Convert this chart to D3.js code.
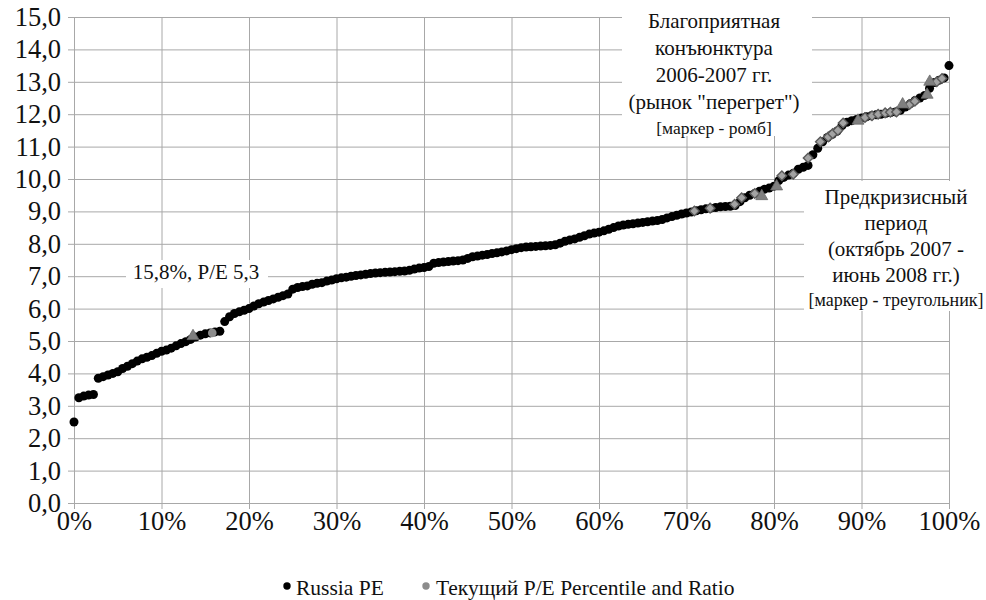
<!DOCTYPE html>
<html><head><meta charset="utf-8">
<script src="https://cdn.jsdelivr.net/npm/d3@7"></script>
<style>
html,body{margin:0;padding:0;background:#fff;}
svg{display:block;}
svg text{font-family:"Liberation Serif","Times New Roman",Times,"DejaVu Serif",serif;}
</style></head>
<body>
<svg id="chart" width="986" height="600"></svg>
<script>
// Russia PE, sorted (percentile rank = index / (n-1))
const russiaPE = [
2.50,3.25,3.30,3.33,3.35,3.85,3.90,3.95,4.00,4.05,
4.15,4.22,4.30,4.38,4.45,4.50,4.55,4.62,4.68,4.72,
4.78,4.85,4.92,4.98,5.05,5.12,5.18,5.22,5.25,5.28,
5.30,5.60,5.75,5.85,5.90,5.95,6.00,6.08,6.15,6.20,
6.25,6.30,6.35,6.40,6.45,6.60,6.65,6.68,6.70,6.75,
6.78,6.80,6.85,6.88,6.92,6.95,6.97,7.00,7.02,7.04,
7.06,7.08,7.10,7.11,7.12,7.13,7.14,7.15,7.16,7.18,
7.22,7.25,7.27,7.30,7.40,7.42,7.44,7.45,7.47,7.48,
7.50,7.55,7.60,7.62,7.65,7.67,7.70,7.72,7.75,7.78,
7.82,7.85,7.88,7.90,7.91,7.92,7.93,7.94,7.95,7.97,
8.02,8.08,8.12,8.15,8.20,8.25,8.30,8.33,8.36,8.40,
8.45,8.50,8.55,8.58,8.60,8.62,8.64,8.66,8.68,8.70,
8.72,8.75,8.80,8.84,8.88,8.92,8.95,8.98,9.02,9.05,
9.08,9.10,9.12,9.14,9.15,9.16,9.18,9.30,9.42,9.50,
9.55,9.62,9.68,9.72,9.78,9.95,10.05,10.12,10.18,10.30,
10.36,10.42,10.75,10.95,11.15,11.28,11.38,11.48,11.65,11.75,
11.80,11.84,11.88,11.92,11.95,11.98,12.00,12.03,12.05,12.07,
12.12,12.22,12.32,12.42,12.50,12.58,12.80,12.98,13.05,13.12,
13.50
];

// "Текущий P/E Percentile and Ratio" series
const currentPct = [15.8];
const currentPE  = [5.25];
// 2006-2007 (diamond markers)
const diamondPct = [70.9,72.7,75.5,76.3,77.8,80.9,82.2,83.9,85.3,86.2,86.7,87.3,87.9,90.4,91.2,91.9,92.7,93.3,94.0,95.5,96.1,98.6,99.2];
const diamondPE  = [9.01,9.10,9.22,9.42,9.55,10.10,10.15,10.65,11.15,11.30,11.40,11.50,11.73,11.90,11.95,12.00,12.04,12.06,12.07,12.30,12.40,13.00,13.10];
// Oct 2007 - Jun 2008 (triangle markers)
const trianglePct = [13.6,78.6,80.3,89.6,94.7,97.5,97.8];
const trianglePE  = [5.15,9.47,9.77,11.80,12.30,12.60,13.00];

const yTickValues = [0,1,2,3,4,5,6,7,8,9,10,11,12,13,14,15];
const xTickValues = [0,10,20,30,40,50,60,70,80,90,100];
const legendLabels = ["Russia PE","Текущий P/E Percentile and Ratio"];
const noteCurrent = "15,8%, P/E 5,3";
const noteBoom = ["Благоприятная","конъюнктура","2006-2007 гг.","(рынок \"перегрет\")"];
const noteBoomSub = "[маркер - ромб]";
const noteCrisis = ["Предкризисный","период","(октябрь 2007 -","июнь 2008 гг.)"];
const noteCrisisSub = "[маркер - треугольник]";

const FONT = '"Liberation Serif","Times New Roman",Times,"DejaVu Serif",serif';
const svg = d3.select("#chart");
const W = 986, H = 600;
const m = {left:74, right:37, top:17, bottom:97};
const x = d3.scaleLinear().domain([0,100]).range([m.left, W - m.right]);
const y = d3.scaleLinear().domain([0,15]).range([H - m.bottom, m.top]);

svg.append("rect").attr("width",W).attr("height",H).attr("fill","#fff");

const gridColor = "#a8a8a8";
const yAxis = svg.append("g").attr("transform",`translate(${m.left},0)`)
  .call(d3.axisLeft(y).tickValues(yTickValues).tickSize(-(W-m.left-m.right)).tickSizeOuter(0)
    .tickPadding(13).tickFormat(d => d3.format(".1f")(d).replace(".",",")));
yAxis.attr("font-family",FONT);
yAxis.select(".domain").remove();
yAxis.selectAll(".tick line").attr("stroke",gridColor).attr("x1",-6);
yAxis.selectAll(".tick text").attr("fill","#111").attr("font-size",26.5);

const xAxis = svg.append("g").attr("transform",`translate(0,${H-m.bottom})`)
  .call(d3.axisBottom(x).tickValues(xTickValues).tickSize(-(H-m.top-m.bottom)).tickSizeOuter(0)
    .tickPadding(8).tickFormat(d => d + "%"));
xAxis.attr("font-family",FONT);
xAxis.select(".domain").remove();
xAxis.selectAll(".tick line").attr("stroke",gridColor).attr("y1",6);
xAxis.selectAll(".tick text").attr("fill","#111").attr("font-size",26.5);

const n = russiaPE.length;
svg.append("g").selectAll("circle").data(russiaPE).join("circle")
  .attr("cx",(d,i) => x(i/(n-1)*100))
  .attr("cy",d => y(d))
  .attr("r",4.5)
  .attr("fill","#000");

const gFill = "#a3a3a3", gStroke = "#5a5a5a";
const dia = diamondPct.map((p,i) => ({p, v:diamondPE[i]}));
svg.append("g").selectAll("path").data(dia).join("path")
  .attr("d",d3.symbol().type(d3.symbolSquare).size(46))
  .attr("transform",d => `translate(${x(d.p)},${y(d.v)}) rotate(45)`)
  .attr("fill",gFill).attr("stroke",gStroke).attr("stroke-width",1.4);
const tri = trianglePct.map((p,i) => ({p, v:trianglePE[i]}));
svg.append("g").selectAll("path").data(tri).join("path")
  .attr("transform",d => `translate(${x(d.p)},${y(d.v)})`)
  .attr("d",d3.symbol().type(d3.symbolTriangle).size(62))
  .attr("fill","#7f7f7f").attr("stroke","#6a6a6a").attr("stroke-width",0.8);
const cur = currentPct.map((p,i) => ({p, v:currentPE[i]}));
svg.append("g").selectAll("circle").data(cur).join("circle")
  .attr("cx",d => x(d.p)).attr("cy",d => y(d.v)).attr("r",4.3)
  .attr("fill","#8c8c8c");

function note(lines, sub, subSize, cx, y0, lh, box) {
  const g = svg.append("g").attr("font-family",FONT);
  g.append("rect").attr("x",box[0]).attr("y",box[1]).attr("width",box[2]).attr("height",box[3]).attr("fill","#fff");
  lines.forEach((t,i) => g.append("text").attr("x",cx).attr("y",y0 + i*lh)
    .attr("text-anchor","middle").attr("dominant-baseline","central")
    .attr("font-size",21).attr("fill","#111").text(t));
  if (sub) g.append("text").attr("x",cx).attr("y",y0 + lines.length*lh - 1)
    .attr("text-anchor","middle").attr("dominant-baseline","central")
    .attr("font-size",subSize).attr("fill","#111").text(sub);
}
note([noteCurrent], null, 0, 196, 272, 27, [126, 260, 142, 28]);
note(noteBoom, noteBoomSub, 17.5, 714, 21, 27, [622, 0, 190, 136]);
note(noteCrisis, noteCrisisSub, 18, 896, 197, 26, [804, 181, 182, 130]);

const lg = svg.append("g").attr("font-size",21.5).attr("fill","#111").attr("font-family",FONT);
lg.append("circle").attr("cx",287).attr("cy",586).attr("r",3.7).attr("fill","#000");
lg.append("text").attr("x",296).attr("y",588).attr("dominant-baseline","central").text(legendLabels[0]);
lg.append("circle").attr("cx",426).attr("cy",586).attr("r",3.7).attr("fill","#8c8c8c");
lg.append("text").attr("x",436).attr("y",588).attr("dominant-baseline","central").text(legendLabels[1]);
</script>
</body></html>
